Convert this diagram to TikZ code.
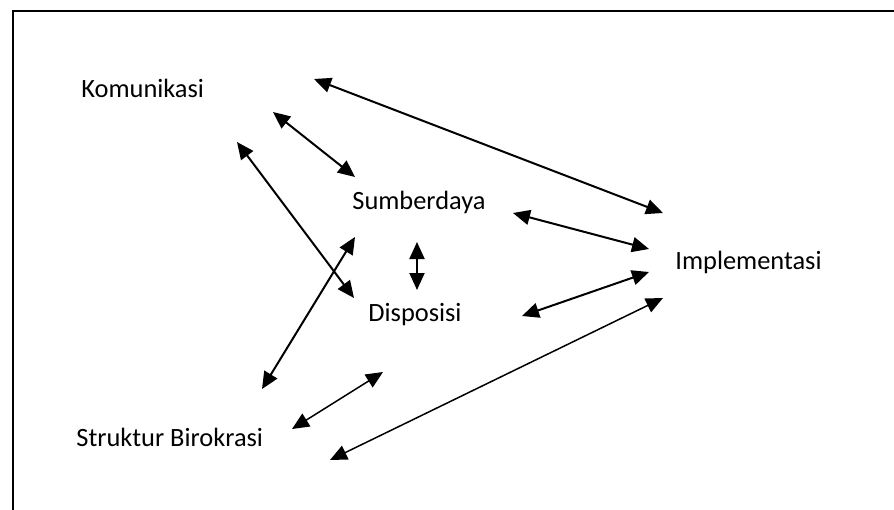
\documentclass[tikz,border=0pt]{standalone}
\usepackage{fontspec}
\setmainfont{Carlito}
\usetikzlibrary{arrows.meta}
\tikzset{
  factor/.style={inner sep=0pt,anchor=base west,font=\fontsize{13.2}{15}\selectfont},
  link/.style={{Triangle[length=8.5pt,width=7.5pt]}-{Triangle[length=8.5pt,width=7.5pt]},line width=1pt},
  linkthin/.style={link,line width=0.75pt},
  frame/.style={draw,line width=1.3pt},
}

\begin{document}
\begin{tikzpicture}[x=0.5pt,y=-0.5pt]
    \useasboundingbox (0,0) rectangle (894,509);
    \draw[frame] (13,11) rectangle (920,540);
    \node[factor] (kom) at (81,97)  {Komunikasi};
    \node[factor] (sum) at (352,209) {Sumberdaya};
    \node[factor] (dis) at (368,321) {Disposisi};
    \node[factor] (imp) at (675,269) {Implementasi};
    \node[factor] (str) at (76,446) {Struktur Birokrasi};
    % links to implementasi
    \draw[link] ([shift={(233,-18)}]kom.base west) -- ([shift={(-12,-56)}]imp.base west);
    \draw[link] ([shift={(161,4)}]sum.base west) -- ([shift={(-26,-20)}]imp.base west);
    \draw[link] ([shift={(154,-5)}]dis.base west) -- ([shift={(-26,3)}]imp.base west);
    \draw[linkthin] ([shift={(254,14)}]str.base west) -- ([shift={(-12,29)}]imp.base west);
    % links between factors
    \draw[link] ([shift={(192,15)}]kom.base west) -- ([shift={(3,-32)}]sum.base west);
    \draw[link] ([shift={(156,45)}]kom.base west) -- ([shift={(-14,-23)}]dis.base west);
    \draw[link] ([shift={(186,-57)}]str.base west) -- ([shift={(3,28)}]sum.base west);
    \draw[link] ([shift={(65,33)}]sum.base west) -- ([shift={(49,-31)}]dis.base west);
    \draw[linkthin] ([shift={(216,-17)}]str.base west) -- ([shift={(15,51)}]dis.base west);
\end{tikzpicture}
\end{document}
